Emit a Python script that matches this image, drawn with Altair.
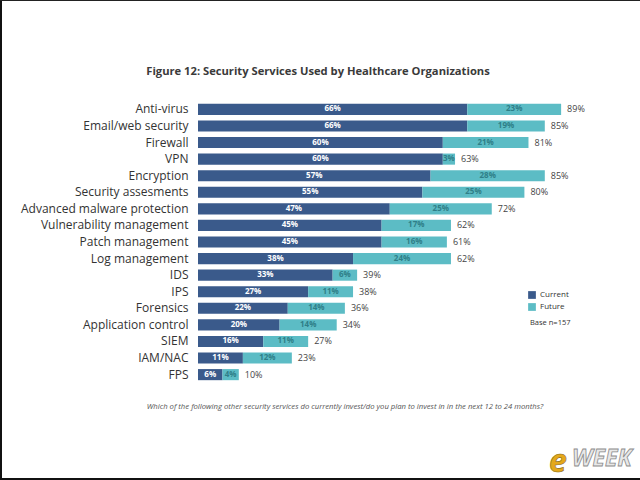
import altair as alt
import pandas as pd

services = [
    "Anti-virus", "Email/web security", "Firewall", "VPN", "Encryption",
    "Security assesments", "Advanced malware protection", "Vulnerability management",
    "Patch management", "Log management", "IDS", "IPS", "Forensics",
    "Application control", "SIEM", "IAM/NAC", "FPS",
]
current = [66, 66, 60, 60, 57, 55, 47, 45, 45, 38, 33, 27, 22, 20, 16, 11, 6]
future = [23, 19, 21, 3, 28, 25, 25, 17, 16, 24, 6, 11, 14, 14, 11, 12, 4]
totals = [89, 85, 81, 63, 85, 80, 72, 62, 61, 62, 39, 38, 36, 34, 27, 23, 10]

series_names = ["Current", "Future"]
series_colors = ["#3a5a8b", "#5cbcc5"]

FONT = "Open Sans"
W, H = 408, 282
LEFT, TOP = 198, 101

rows = []
for s, c, f in zip(services, current, future):
    rows.append({"service": s, "series": "Current", "value": c, "rank": 0})
    rows.append({"service": s, "series": "Future", "value": f, "rank": 1})
long_df = pd.DataFrame(rows)
tot_df = pd.DataFrame({"service": services, "total": totals})

x_scale = alt.Scale(domain=[0, 100], nice=False)
y_enc = alt.Y("service:N", sort=services, title=None,
              scale=alt.Scale(paddingInner=0.33, paddingOuter=0.17),
              axis=alt.Axis(domain=False, ticks=False, labelPadding=10,
                            labelFontSize=12, labelColor="#333333", labelFont=FONT,
                            labelLimit=300))

base = alt.Chart(long_df).transform_stack(
    stack="value", groupby=["service"], sort=[alt.SortField("rank")],
    as_=["v0", "v1"]
).transform_calculate(mid="(datum.v0 + datum.v1) / 2",
                      lab="datum.value + '%'")

bars = base.mark_bar().encode(
    x=alt.X("v0:Q", scale=x_scale, axis=None),
    x2="v1:Q",
    y=y_enc,
    color=alt.Color("series:N", scale=alt.Scale(domain=series_names, range=series_colors),
                    legend=alt.Legend(title=None, orient="none", legendX=330, legendY=190,
                                      symbolType="square", symbolSize=60, symbolStrokeWidth=0,
                                      labelFontSize=8, labelFont=FONT, labelColor="#333333",
                                      rowPadding=4, labelOffset=4)),
)

# segment labels: white on the dark segment, dark teal on the light one
seg_text = base.mark_text(fontSize=8, font=FONT, fontWeight="bold").encode(
    x=alt.X("mid:Q", scale=x_scale),
    y=alt.Y("service:N", sort=services),
    text="lab:N",
    color=alt.condition(alt.datum.series == "Current",
                        alt.value("#ffffff"), alt.value("#2f7f88")),
)

tot_text = alt.Chart(tot_df).transform_calculate(
    lab="datum.total + '%'"
).mark_text(align="left", dx=6, fontSize=9, font=FONT, color="#444444").encode(
    x=alt.X("total:Q", scale=x_scale),
    y=alt.Y("service:N", sort=services),
    text="lab:N",
)

def note(txt, x, y, **kw):
    return alt.Chart(pd.DataFrame({"t": [txt]})).mark_text(font=FONT, **kw).encode(
        x=alt.value(x - LEFT), y=alt.value(y - TOP), text="t:N")

title = note("Figure 12: Security Services Used by Healthcare Organizations", 318, 72,
             fontSize=11.2, fontWeight="bold", color="#3a3a3a")
footnote = note("Which of the following other security services do currently invest/do you plan "
                "to invest in in the next 12 to 24 months?", 345, 407,
                fontSize=7.7, fontStyle="italic", color="#555555")
base_n = note("Base n=157", 530, 323, fontSize=7.5, color="#333333", align="left")
logo_e = note("e", 549, 462, fontSize=32, fontWeight="bold", fontStyle="italic",
              color="#e4a81c", stroke="#8a6a10", strokeWidth=0.6, align="left")
logo_week = note("WEEK", 572, 459, fontSize=23, fontWeight="bold", fontStyle="italic",
                 color="#e8e8e8", stroke="#8c8c8c", strokeWidth=0.8, align="left")

frame_left = alt.Chart(pd.DataFrame({"a": [0]})).mark_rule(color="#111111", strokeWidth=2).encode(
    x=alt.value(1 - LEFT), y=alt.value(-TOP), y2=alt.value(480 - TOP))
frame_top = alt.Chart(pd.DataFrame({"a": [0]})).mark_rule(color="#222222", strokeWidth=1).encode(
    x=alt.value(-LEFT), x2=alt.value(640 - LEFT), y=alt.value(0.5 - TOP))
frame_bottom = alt.Chart(pd.DataFrame({"a": [0]})).mark_rule(color="#111111", strokeWidth=2).encode(
    x=alt.value(-LEFT), x2=alt.value(640 - LEFT), y=alt.value(479 - TOP))

chart = alt.layer(
    bars, seg_text, tot_text, title, footnote, base_n, logo_e, logo_week,
    frame_left, frame_top, frame_bottom
).properties(
    width=W, height=H,
    autosize=alt.AutoSizeParams(type="none"),
    padding={"left": LEFT, "top": TOP, "right": 640 - LEFT - W, "bottom": 480 - TOP - H},
    background="#ffffff",
).configure_view(stroke=None)

chart.save("out.html", embed_options={"renderer": "svg", "actions": False})
